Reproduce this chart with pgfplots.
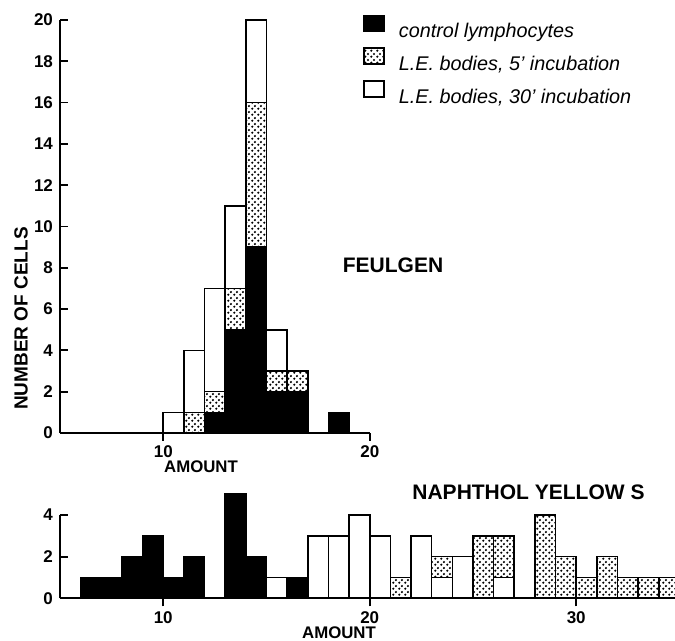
\documentclass[border=0pt]{standalone}
\usepackage{pgfplots}
\pgfplotsset{compat=1.18}
\usepackage{fontspec}
\setmainfont{Liberation Sans}
\usetikzlibrary{patterns.meta}
\tikzdeclarepattern{
  name=mydots,
  type=uncolored,
  bottom left={(0pt,0pt)},
  top right={(2.8pt,2.8pt)},
  tile size={(2.8pt,2.8pt)},
  code={\fill (0.7pt,0.7pt) circle (0.62pt); \fill (2.1pt,2.1pt) circle (0.62pt);}
}
\pgfplotsset{
  histax/.style={
    scale only axis, anchor=south west,
    axis lines=left, axis line style={-, line width=0.9pt},
    ybar stacked, bar width=1, bar shift=0pt,
    tick align=inside, major tick length=4pt,
    tick style={line width=0.9pt, black},
    xtick style={yshift=-4pt},
    xticklabel style={yshift=-3pt},
    tick label style={font=\bfseries\fontsize{8.5}{9}\selectfont},
    /pgf/number format/assume math mode=true,
  },
  leg/.style={legend image code/.code={\draw[##1, line width=0.8pt] (0pt,0pt) rectangle (10pt,8pt);}},
  blk/.style={draw=black, fill=black, line width=0.8pt, leg},
  dot/.style={draw=black, pattern=mydots, line width=0.8pt, leg},
  wht/.style={draw=black, fill=white, line width=0.8pt, leg},
}
\begin{document}
\begin{tikzpicture}
\useasboundingbox (0pt,0pt) rectangle (337.5pt,320.5pt);
% top: Feulgen
\begin{axis}[histax,
  at={(30pt,104pt)}, width=154.9pt, height=206.5pt,
  xmin=5, xmax=20, ymin=0, ymax=20,
  xtick={10,20}, ytick={0,2,...,20},
  legend cell align=left,
  legend style={at={(0.978,1.014)}, anchor=north west, draw=none, fill=none,
    inner sep=0pt, row sep=3pt,
    font=\itshape\fontsize{9.9}{11}\selectfont,
    nodes={inner sep=0pt, text height=8pt, text depth=2pt},
    /tikz/every odd column/.append style={column sep=7pt}},
]
\addplot[blk] coordinates {(10.5,0) (11.5,0) (12.5,1) (13.5,5) (14.5,9) (15.5,2) (16.5,2) (17.5,0) (18.5,1)};
\addplot[dot] coordinates {(10.5,0) (11.5,1) (12.5,1) (13.5,2) (14.5,7) (15.5,1) (16.5,1) (17.5,0) (18.5,0)};
\addplot[wht] coordinates {(10.5,1) (11.5,3) (12.5,5) (13.5,4) (14.5,4) (15.5,2) (16.5,0) (17.5,0) (18.5,0)};
\legend{control lymphocytes, {L.E. bodies, 5' incubation}, {L.E. bodies, 30' incubation}}
\end{axis}
% bottom: Naphthol yellow S
\begin{axis}[histax,
  at={(30pt,21.35pt)}, width=309.75pt, height=41.65pt,
  xmin=5, xmax=35, ymin=0, ymax=4, clip=false,
  xtick={10,20,30}, ytick={0,2,4},
]
\addplot[blk] coordinates {(6.5,1) (7.5,1) (8.5,2) (9.5,3) (10.5,1) (11.5,2) (12.5,0) (13.5,5) (14.5,2) (15.5,0) (16.5,1) (17.5,0) (18.5,0) (19.5,0) (20.5,0) (21.5,0) (22.5,0) (23.5,0) (24.5,0) (25.5,0) (26.5,0) (27.5,0) (28.5,0) (29.5,0) (30.5,0) (31.5,0) (32.5,0) (33.5,0) (34.5,0)};
\addplot[wht] coordinates {(6.5,0) (7.5,0) (8.5,0) (9.5,0) (10.5,0) (11.5,0) (12.5,0) (13.5,0) (14.5,0) (15.5,1) (16.5,0) (17.5,3) (18.5,3) (19.5,4) (20.5,3) (21.5,0) (22.5,3) (23.5,1) (24.5,2) (25.5,0) (26.5,1) (27.5,0) (28.5,0) (29.5,0) (30.5,0) (31.5,0) (32.5,0) (33.5,0) (34.5,0)};
\addplot[dot] coordinates {(6.5,0) (7.5,0) (8.5,0) (9.5,0) (10.5,0) (11.5,0) (12.5,0) (13.5,0) (14.5,0) (15.5,0) (16.5,0) (17.5,0) (18.5,0) (19.5,0) (20.5,0) (21.5,1) (22.5,0) (23.5,1) (24.5,0) (25.5,3) (26.5,2) (27.5,0) (28.5,4) (29.5,2) (30.5,1) (31.5,2) (32.5,1) (33.5,1) (34.5,1)};
\end{axis}
\node[rotate=90, font=\bfseries\fontsize{9.5}{10}\selectfont] at (10.5pt,161.25pt) {NUMBER OF CELLS};
\node[font=\bfseries\fontsize{8.4}{9}\selectfont] at (100.5pt,87pt) {AMOUNT};
\node[font=\bfseries\fontsize{8.4}{9}\selectfont] at (169.5pt,4pt) {AMOUNT};
\node[font=\bfseries\fontsize{10.5}{11}\selectfont] at (196.5pt,188pt) {FEULGEN};
\node[font=\bfseries\fontsize{10.5}{11}\selectfont] at (264.25pt,74.5pt) {NAPHTHOL YELLOW S};
\end{tikzpicture}
\end{document}
